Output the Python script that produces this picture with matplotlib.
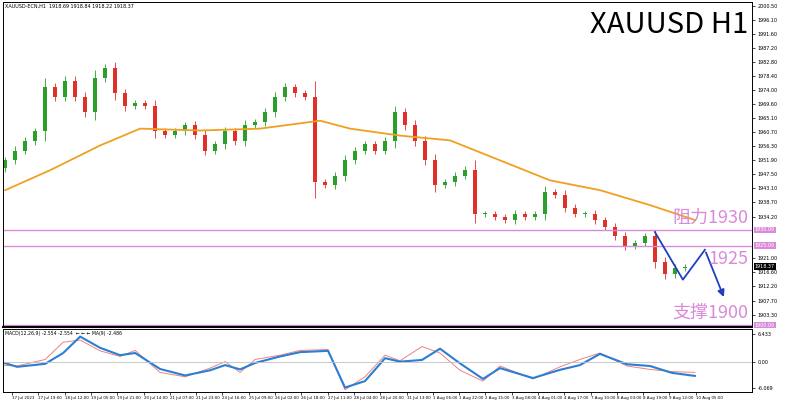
import numpy as np
import matplotlib.pyplot as plt

# ---- data ----
closes = [1951.9, 1955, 1958, 1961, 1975, 1972, 1977, 1972, 1967, 1978,
          1981, 1973, 1969, 1970, 1969, 1961, 1960, 1961, 1963, 1960,
          1955, 1957, 1961, 1958, 1963, 1964, 1967, 1972, 1975, 1973,
          1972, 1945, 1944, 1947, 1952, 1955, 1957, 1955, 1958, 1967,
          1963, 1958, 1952, 1944, 1945, 1947, 1949, 1935, 1935, 1934,
          1933, 1935, 1934, 1935, 1942, 1941, 1937, 1935, 1935, 1933,
          1931, 1928, 1925, 1926, 1928, 1920, 1916, 1918, 1918.37]
first_open = 1949.5

ma_idx = [0, 4.5, 9.5, 13.5, 19.5, 25.5, 31.5, 34.5, 39.5, 44.5, 49.5, 54.5, 59.5, 64.5, 69]
ma_val = [1942.5, 1948.8, 1956.6, 1961.9, 1961.3, 1961.9, 1964.4, 1961.9, 1959.7,
          1958.2, 1951.9, 1945.6, 1942.5, 1937.8, 1933.1]

macd_idx = [-0.5, 1.2, 4, 5.8, 7.5, 9.5, 11.5, 13, 15.5, 18, 20.5, 22, 23.5, 25, 27.5,
            29.5, 32.3, 34, 36, 38, 39.5, 41.7, 43.5, 45.5, 47.8, 49.5, 52.8, 55.5, 57.5,
            59.5, 62.2, 64.5, 66.7, 69]
macd_blue = [0, -1.2, -0.5, 2, 5.8, 3.2, 1.5, 2, -1.7, -3.2, -2, -0.8, -1.8, -0.3, 1.2,
             2.2, 2.5, -6.0, -4.5, 0.8, 0, 0.4, 3, -0.4, -4, -1.5, -3.8, -1.9, -0.8,
             1.8, -0.6, -1, -2.6, -3.3]
macd_red = [-0.8, -1.0, 0.5, 4.5, 5.0, 2.5, 1.2, 2.6, -2.5, -3.5, -1.5, 0, -2.5, 0.5, 1.5,
            2.6, 2.8, -6.5, -3.5, 1.5, 0.2, 3.5, 2.0, -2.0, -4.5, -1.0, -4.0, -1.2, 0.5,
            2.0, -1.0, -1.8, -2.3, -2.5]

date_labels = ["17 Jul 2023", "17 Jul 19:00", "18 Jul 12:00", "19 Jul 05:00", "19 Jul 21:00",
               "20 Jul 14:00", "21 Jul 07:00", "21 Jul 23:00", "24 Jul 16:00", "25 Jul 09:00",
               "26 Jul 02:00", "26 Jul 18:00", "27 Jul 11:00", "28 Jul 04:00", "28 Jul 20:00",
               "31 Jul 13:00", "1 Aug 06:00", "1 Aug 22:00", "2 Aug 15:00", "3 Aug 08:00",
               "4 Aug 01:00", "4 Aug 17:00", "7 Aug 10:00", "8 Aug 03:00", "8 Aug 19:00",
               "9 Aug 12:00", "10 Aug 05:00"]
price_ticks = [2000.50, 1996.10, 1991.60, 1987.20, 1982.80, 1978.40, 1974.00, 1969.60,
               1965.10, 1960.70, 1956.30, 1951.90, 1947.50, 1943.10, 1938.70, 1934.20,
               1921.00, 1916.60, 1912.20, 1907.70, 1903.30]
levels = [1930.0, 1925.0, 1900.0]
arrow_idx = [65, 67.8, 70, 72]
arrow_val = [1929.3, 1914.3, 1923.7, 1908.0]

PINK = "#d98ad9"

fig = plt.figure(figsize=(7.99, 4.04), dpi=100)
ax = fig.add_axes([0.004, 0.19, 0.937, 0.805])
ax2 = fig.add_axes([0.004, 0.03, 0.937, 0.155])

# candles
opens = [first_open] + closes[:-1]
for i, (o, c) in enumerate(zip(opens, closes)):
    col = "#2aa02a" if c >= o else "#e0302a"
    w = 0.15 * abs(c - o) + 0.8
    ax.vlines(i, min(o, c) - w, max(o, c) + w, color=col, lw=0.6)
    ax.bar(i, max(abs(c - o), 0.3), bottom=min(o, c), width=0.35, color=col)

ax.plot(ma_idx, ma_val, color="#f0a020", lw=1.3)
for lv in levels:
    ax.axhline(lv, color=PINK, lw=1)

ax.plot(arrow_idx[:3], arrow_val[:3], color="#1f3fbf", lw=1.3)
ax.annotate("", xy=(arrow_idx[3], arrow_val[3]), xytext=(arrow_idx[2], arrow_val[2]),
            arrowprops=dict(arrowstyle="-|>", color="#1f3fbf", lw=1.3))

cjk = ["Noto Sans CJK SC", "DejaVu Sans"]
ax.text(0.995, 0.975, "XAUUSD H1", transform=ax.transAxes, ha="right", va="top",
        fontsize=21, family=cjk)
ax.text(0.995, 1931, "阻力1930", ha="right", va="bottom", fontsize=13, color=PINK,
        family=cjk, transform=ax.get_yaxis_transform())
ax.text(0.995, 1923.6, "1925", ha="right", va="top", fontsize=13, color=PINK,
        family=cjk, transform=ax.get_yaxis_transform())
ax.text(0.995, 1901, "支撑1900", ha="right", va="bottom", fontsize=13, color=PINK,
        family=cjk, transform=ax.get_yaxis_transform())
ax.text(0.003, 0.995, "XAUUSD-ECN,H1  1918.69 1918.84 1918.22 1918.37",
        transform=ax.transAxes, fontsize=3.5, va="top")

ax.set_xlim(-0.2, 74.7)
ax.set_ylim(1899.3, 2001.8)
ax.yaxis.tick_right()
ax.set_yticks(price_ticks)
ax.set_yticklabels([f"{t:.2f}" for t in price_ticks], fontsize=3.5)
ax.tick_params(axis="y", length=2, width=0.5, pad=2)
ax.set_xticks([])
for lv, fc in [(1930.0, PINK), (1925.0, PINK), (1918.37, "black"), (1900.0, PINK)]:
    ax.text(1.004, lv, f"{lv:.2f}", transform=ax.get_yaxis_transform(), fontsize=3.5,
            color="white", va="center", bbox=dict(fc=fc, ec="none", pad=0.6))

# MACD panel
ax2.plot(macd_idx, macd_red, color="#f08080", lw=0.7)
ax2.plot(macd_idx, macd_blue, color="#2a7fd4", lw=1.5)
ax2.axhline(0, color="#c0c0c0", lw=0.6)
ax2.set_xlim(-0.2, 74.7)
ax2.set_ylim(-7.0, 7.5)
ax2.yaxis.tick_right()
ax2.set_yticks([6.433, 0, -6.069])
ax2.set_yticklabels(["6.433", "0.00", "-6.069"], fontsize=3.5)
ax2.tick_params(axis="y", length=2, width=0.5, pad=2)
ax2.text(0.003, 0.97, "MACD(12,26,9) -2.554 -2.554  ← ← ← MA(9) -2.486", transform=ax2.transAxes,
         fontsize=3.3, va="top")
tick_pos = [0.7 + k * 2.63 for k in range(len(date_labels))]
ax2.set_xticks(tick_pos)
ax2.set_xticklabels(date_labels, fontsize=2.9, ha="left")
ax2.tick_params(axis="x", length=2, width=0.5, pad=1)

for a in (ax, ax2):
    for s in a.spines.values():
        s.set_linewidth(0.7)
ax.spines["bottom"].set_linewidth(1.5)

fig.savefig("out.png", dpi=100)
